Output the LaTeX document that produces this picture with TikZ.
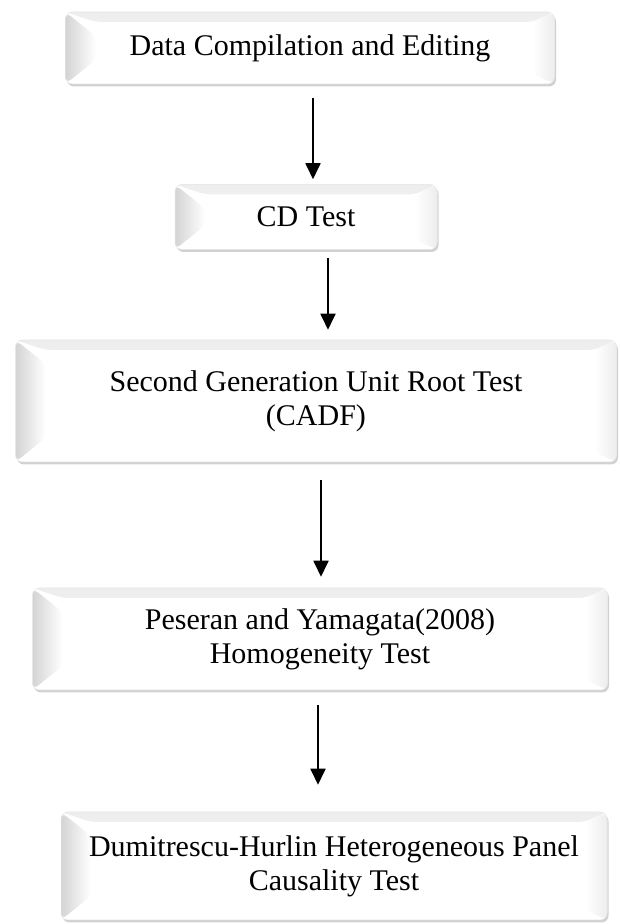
\documentclass[tikz,border=0pt]{standalone}
\usepackage{fontspec}
\setmainfont{Liberation Serif}
\usetikzlibrary{arrows.meta,shadows}

\begin{document}
\begin{tikzpicture}[x=1pt, y=1pt,
  stage/.style={rectangle, rounded corners=7pt, fill=white, draw=black!10, line width=0.5pt,
    drop shadow={shadow xshift=1.5pt, shadow yshift=-2.5pt, opacity=0.3, fill=black!60},
    align=center, inner sep=0pt, font=\fontsize{30}{34}\selectfont,
    path picture={
      \fill[top color=black!7, bottom color=white]
        (path picture bounding box.north west) -- (path picture bounding box.north east)
        -- ([xshift=-22pt, yshift=-10pt]path picture bounding box.north east)
        -- ([xshift=30pt, yshift=-10pt]path picture bounding box.north west) -- cycle;
      \fill[left color=white, right color=black!7]
        (path picture bounding box.south east) -- (path picture bounding box.north east)
        -- ([xshift=-22pt, yshift=-10pt]path picture bounding box.north east)
        -- ([xshift=-22pt, yshift=10pt]path picture bounding box.south east) -- cycle;
      \fill[left color=black!17, right color=white]
        (path picture bounding box.south west) -- (path picture bounding box.north west)
        -- ([xshift=30pt, yshift=-24pt]path picture bounding box.north west)
        -- ([xshift=30pt, yshift=24pt]path picture bounding box.south west) -- cycle;
    }},
  flow/.style={-{Triangle[width=15pt, length=16pt]}, line width=1.8pt}]
  \useasboundingbox (0,0) rectangle (620,924);
  \node[stage, minimum width=489pt, minimum height=72pt] (d1) at (310,876) {Data Compilation and Editing};
  \node[stage, minimum width=262pt, minimum height=65pt] (d2) at (306,707) {CD Test};
  \node[stage, minimum width=601pt, minimum height=122pt] (d3) at (316,523) {Second Generation Unit Root Test\\(CADF)};
  \node[stage, minimum width=575pt, minimum height=102pt] (d4) at (320,285) {Peseran and Yamagata(2008)\\Homogeneity Test};
  \node[stage, minimum width=546pt, minimum height=108pt] (d5) at (334,58) {Dumitrescu-Hurlin Heterogeneous Panel\\Causality Test};
  \coordinate (a1) at (313,0);
  \coordinate (a2) at (328,0);
  \coordinate (a3) at (321,0);
  \coordinate (a4) at (318,0);
  \draw[flow, shorten <=14pt, shorten >=5pt] (d1.south -| a1) -- (d2.north -| a1);
  \draw[flow, shorten <=8pt, shorten >=10pt] (d2.south -| a2) -- (d3.north -| a2);
  \draw[flow, shorten <=18pt, shorten >=11pt] (d3.south -| a3) -- (d4.north -| a3);
  \draw[flow, shorten <=15pt, shorten >=27pt] (d4.south -| a4) -- (d5.north -| a4);
\end{tikzpicture}
\end{document}
